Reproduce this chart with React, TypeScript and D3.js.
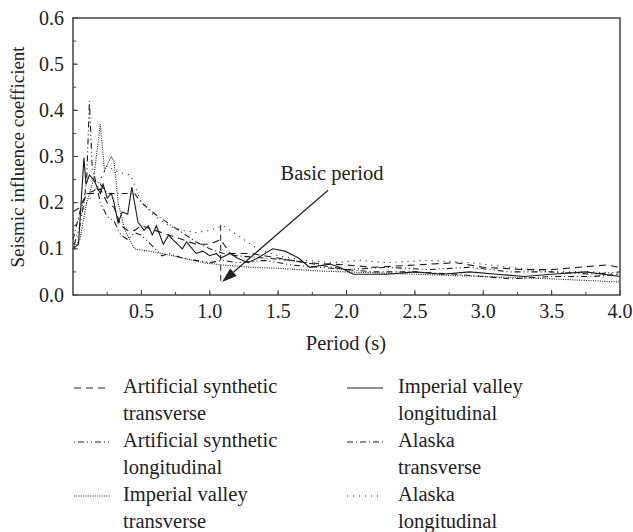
import * as d3 from 'd3';

// period (s) / coefficient pairs
const asTransX = [0, 0.05, 0.1, 0.15, 0.2, 0.25, 0.3, 0.35, 0.4, 0.45, 0.5, 0.6, 0.7, 0.8, 0.9, 1.0, 1.08, 1.15, 1.3, 1.5, 1.7, 2.0, 2.2, 2.5, 2.8, 3.0, 3.3, 3.5, 3.7, 3.9, 4.0];
const asTransY = [0.18, 0.19, 0.22, 0.22, 0.23, 0.2, 0.19, 0.15, 0.14, 0.14, 0.15, 0.14, 0.13, 0.12, 0.11, 0.11, 0.12, 0.09, 0.09, 0.08, 0.07, 0.065, 0.06, 0.065, 0.07, 0.06, 0.055, 0.055, 0.06, 0.065, 0.06];

const asLongX = [0, 0.05, 0.08, 0.1, 0.12, 0.14, 0.17, 0.2, 0.25, 0.3, 0.35, 0.4, 0.45, 0.5, 0.6, 0.65, 0.7, 0.8, 0.9, 1.0, 1.1, 1.2, 1.4, 1.6, 1.8, 2.0, 2.3, 2.6, 2.9, 3.2, 3.5, 3.8, 4.0];
const asLongY = [0.1, 0.15, 0.2, 0.25, 0.42, 0.28, 0.24, 0.2, 0.17, 0.16, 0.13, 0.12, 0.135, 0.13, 0.1, 0.085, 0.09, 0.08, 0.075, 0.07, 0.075, 0.07, 0.075, 0.065, 0.06, 0.055, 0.06, 0.055, 0.06, 0.05, 0.05, 0.045, 0.05];

const ivTransX = [0, 0.05, 0.1, 0.15, 0.2, 0.23, 0.28, 0.3, 0.33, 0.38, 0.45, 0.55, 0.65, 0.8, 0.95, 1.1, 1.3, 1.5, 1.8, 2.0, 2.5, 3.0, 3.5, 4.0];
const ivTransY = [0.1, 0.12, 0.2, 0.25, 0.37, 0.27, 0.3, 0.29, 0.2, 0.14, 0.1, 0.095, 0.09, 0.08, 0.07, 0.065, 0.06, 0.058, 0.052, 0.05, 0.045, 0.04, 0.035, 0.028];

const ivLongX = [0, 0.04, 0.08, 0.095, 0.12, 0.15, 0.2, 0.22, 0.25, 0.28, 0.3, 0.33, 0.36, 0.4, 0.43, 0.475, 0.52, 0.55, 0.58, 0.61, 0.66, 0.7, 0.73, 0.8, 0.83, 0.9, 0.95, 1.0, 1.05, 1.08, 1.15, 1.2, 1.28, 1.35, 1.46, 1.55, 1.65, 1.73, 1.88, 1.95, 2.05, 2.3, 2.5, 2.7, 2.9, 3.1, 3.3, 3.5, 3.75, 4.0];
const ivLongY = [0.1, 0.11, 0.297, 0.24, 0.26, 0.25, 0.22, 0.24, 0.21, 0.22, 0.2, 0.156, 0.18, 0.175, 0.234, 0.158, 0.14, 0.15, 0.13, 0.15, 0.11, 0.13, 0.12, 0.1, 0.115, 0.09, 0.095, 0.085, 0.09, 0.08, 0.09, 0.08, 0.07, 0.08, 0.1, 0.095, 0.08, 0.06, 0.067, 0.06, 0.045, 0.045, 0.05, 0.045, 0.05, 0.045, 0.04, 0.045, 0.05, 0.04];

const akTransX = [0, 0.05, 0.1, 0.15, 0.2, 0.25, 0.3, 0.35, 0.45, 0.5, 0.6, 0.7, 0.8, 0.9, 1.0, 1.1, 1.2, 1.4, 1.6, 1.8, 2.0, 2.2, 2.5, 2.8, 3.0, 3.2, 3.5, 3.8, 4.0];
const akTransY = [0.12, 0.18, 0.22, 0.225, 0.24, 0.22, 0.22, 0.22, 0.22, 0.2, 0.175, 0.155, 0.135, 0.115, 0.1, 0.09, 0.085, 0.08, 0.075, 0.065, 0.055, 0.05, 0.05, 0.045, 0.04, 0.035, 0.04, 0.04, 0.045];

const akLongX = [0, 0.05, 0.1, 0.15, 0.2, 0.25, 0.3, 0.35, 0.42, 0.5, 0.6, 0.7, 0.8, 0.9, 1.0, 1.1, 1.2, 1.35, 1.5, 1.7, 1.9, 2.1, 2.3, 2.6, 2.9, 3.2, 3.5, 3.8, 4.0];
const akLongY = [0.14, 0.17, 0.2, 0.22, 0.25, 0.28, 0.27, 0.265, 0.26, 0.2, 0.17, 0.15, 0.14, 0.135, 0.14, 0.15, 0.13, 0.1, 0.085, 0.075, 0.07, 0.075, 0.07, 0.075, 0.07, 0.06, 0.05, 0.05, 0.045];

const seriesNames = [
  ['Artificial synthetic', 'transverse'],
  ['Artificial synthetic', 'longitudinal'],
  ['Imperial valley', 'transverse'],
  ['Imperial valley', 'longitudinal'],
  ['Alaska', 'transverse'],
  ['Alaska', 'longitudinal'],
];
const xTicks = [0.5, 1.0, 1.5, 2.0, 2.5, 3.0, 3.5, 4.0];
const yTicks = [0.0, 0.1, 0.2, 0.3, 0.4, 0.5, 0.6];

const basicPeriod = 1.08;

const dashes = ['7,5', '1,3,6,3,1,3', '1,1.3', '', '6,3,1,3', '1,5'];

const FONT = "'Liberation Serif', 'DejaVu Serif', serif";

const App = () => {
  const width = 633;
  const height = 532;
  const left = 73, right = 620, top = 18, bottom = 295;

  const x = d3.scaleLinear().domain([0, 4]).range([left, right]);
  const y = d3.scaleLinear().domain([0, 0.6]).range([bottom, top]);

  const series = [
    [asTransX, asTransY],
    [asLongX, asLongY],
    [ivTransX, ivTransY],
    [ivLongX, ivLongY],
    [akTransX, akTransY],
    [akLongX, akLongY],
  ];

  const line = d3.line<[number, number]>().x(d => x(d[0])).y(d => y(d[1]));

  const xMinor = d3.range(0.25, 4, 0.25);
  const yMinor = d3.range(0.05, 0.6, 0.05);

  // annotation arrow
  const ax0 = x(1.865), ay0 = y(0.227);
  const ax1 = x(basicPeriod + 0.01), ay1 = y(0.028);
  const ang = Math.atan2(ay1 - ay0, ax1 - ax0);
  const hl = 15, hw = 5;
  const bx = ax1 - hl * Math.cos(ang), by = ay1 - hl * Math.sin(ang);
  const head = `M${ax1},${ay1}L${bx + hw * Math.sin(ang)},${by - hw * Math.cos(ang)}L${bx - hw * Math.sin(ang)},${by + hw * Math.cos(ang)}Z`;

  const txt = { fontFamily: FONT, fill: '#222' };

  return (
    <svg width={width} height={height} style={{ position: 'absolute', left: 0, top: 0, background: '#fff' }}>
      {series.map((s, i) => (
        <path key={i} d={line(s[0].map((v, j) => [v, s[1][j]]) as [number, number][]) || ''}
          fill="none" stroke="#1a1a1a" strokeWidth={1.1} strokeDasharray={dashes[i] || undefined} />
      ))}

      {/* basic period marker */}
      <line x1={x(basicPeriod)} x2={x(basicPeriod)} y1={y(0.152)} y2={y(0.022)} stroke="#222" strokeWidth={1} strokeDasharray="6,4" />
      <line x1={ax0} y1={ay0} x2={bx} y2={by} stroke="#222" strokeWidth={1.2} />
      <path d={head} fill="#222" />
      <text x={332} y={180} textAnchor="middle" fontSize={20.5} style={txt}>Basic period</text>

      {/* frame */}
      <rect x={left} y={top} width={right - left} height={bottom - top} fill="none" stroke="#444" strokeWidth={1.5} />

      {xTicks.map(t => (
        <g key={t}>
          <line x1={x(t)} x2={x(t)} y1={bottom} y2={bottom - 5} stroke="#444" />
          <text x={x(t)} y={318} textAnchor="middle" fontSize={20} style={txt}>{t.toFixed(1)}</text>
        </g>
      ))}
      {xMinor.map(t => (
        <line key={t} x1={x(t)} x2={x(t)} y1={bottom} y2={bottom - 3} stroke="#444" />
      ))}
      {yTicks.map(t => (
        <g key={t}>
          <line x1={left} x2={left + 5} y1={y(t)} y2={y(t)} stroke="#444" />
          <text x={64} y={y(t) + 6.5} textAnchor="end" fontSize={20} style={txt}>{t.toFixed(1)}</text>
        </g>
      ))}
      {yMinor.map(t => (
        <line key={t} x1={left} x2={left + 3} y1={y(t)} y2={y(t)} stroke="#444" />
      ))}

      <text x={346} y={350} textAnchor="middle" fontSize={20.5} style={txt}>Period (s)</text>
      <text transform="translate(24,157) rotate(-90)" textAnchor="middle" fontSize={19} style={txt}>Seismic influence coefficient</text>

      {/* legend */}
      {seriesNames.map((n, i) => {
        const col = i < 3 ? 0 : 1;
        const row = i % 3;
        const lx = col === 0 ? 74 : 347;
        const tx = col === 0 ? 123 : 398;
        const by0 = 393 + row * 54;
        return (
          <g key={i}>
            <line x1={lx} x2={lx + 36} y1={by0 - 5} y2={by0 - 5} stroke="#222" strokeWidth={1} strokeDasharray={dashes[i] || undefined} />
            <text x={tx} y={by0} fontSize={20.5} style={txt}>{n[0]}</text>
            <text x={tx} y={by0 + 26.5} fontSize={20.5} style={txt}>{n[1]}</text>
          </g>
        );
      })}
    </svg>
  );
};

export default App;
